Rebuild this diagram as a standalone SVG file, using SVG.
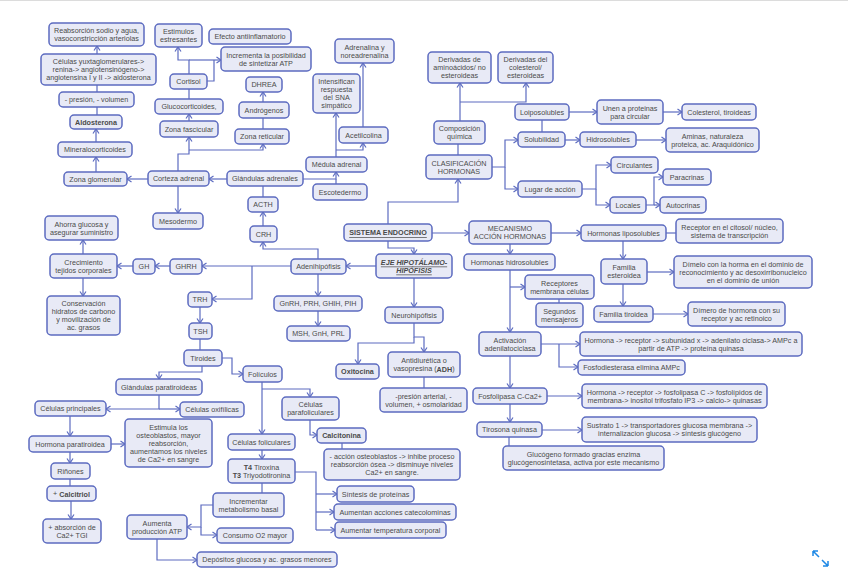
<svg xmlns="http://www.w3.org/2000/svg" width="848" height="584" viewBox="0 0 848 584">
<defs>
<marker id="ar" viewBox="-6 -4 7 8" refX="0" refY="0" markerWidth="7" markerHeight="8" markerUnits="userSpaceOnUse" orient="auto">
<path d="M-4.5,-3 L0,0 L-4.5,3" fill="none" stroke="#5c6bc0" stroke-width="1.2"/>
</marker>
</defs>
<style>
.n rect{fill:#e8eaf6;stroke:#5c6bc0;stroke-width:1.5}
text{font-family:"Liberation Sans",Arial,sans-serif;font-size:7.2px;fill:#4a4a4a;text-anchor:middle;dominant-baseline:central}
.c path{fill:none;stroke:#5c6bc0;stroke-width:1.2}
.c path.a{marker-end:url(#ar)}
.b{font-weight:bold}
</style>
<rect x="0" y="0" width="848" height="1" fill="#dcdcdc"/>
<g class="c" id="connectors">
<path class="a" d="M97,54 V46"/>
<path d="M97,92 V85"/>
<path d="M97,115 V107"/>
<path class="a" d="M96,142 V129"/>
<path class="a" d="M96,172 V157"/>
<path class="a" d="M148,179 H127"/>
<path class="a" d="M227,179 H209"/>
<path class="a" d="M178,171 V154 H189 V137"/>
<path class="a" d="M189,150 H263 V144"/>
<path class="a" d="M178,186 V213"/>
<path class="a" d="M189,121 V114"/>
<path d="M189,99 V89"/>
<path class="a" d="M189,74 V60 H178 V47"/>
<path class="a" d="M189,60 H221"/>
<path d="M207,81 H214 V60"/>
<path d="M263,129 V118"/>
<path class="a" d="M263,102 V92"/>
<path class="a" d="M303,179 H336 V172"/>
<path d="M336,184 V179"/>
<path class="a" d="M336,157 V113"/>
<path class="a" d="M336,150 H363 V143"/>
<path class="a" d="M363,127 V63"/>
<path d="M263,186 V197"/>
<path class="a" d="M263,226 V212"/>
<path class="a" d="M318,259 V249 H263 V242"/>
<path class="a" d="M291,266 H202"/>
<path class="a" d="M252,266 V299 H212"/>
<path class="a" d="M318,274 V296"/>
<path class="a" d="M318,311 V326"/>
<path class="a" d="M170,266 H155"/>
<path class="a" d="M133,266 H117"/>
<path class="a" d="M83,254 V240"/>
<path class="a" d="M83,278 V296"/>
<path class="a" d="M200,307 V323"/>
<path d="M200,339 V350"/>
<path class="a" d="M202,366 V372 H159 V379"/>
<path class="a" d="M222,358 H232 V374 H243"/>
<path class="a" d="M159,395 V409 H106"/>
<path class="a" d="M159,409 H180"/>
<path class="a" d="M70,416 V436"/>
<path class="a" d="M111,444 H125"/>
<path class="a" d="M70,452 V463"/>
<path d="M70,479 V486"/>
<path class="a" d="M71,501 V519"/>
<path class="a" d="M262,382 V434"/>
<path class="a" d="M262,389 H310 V397"/>
<path class="a" d="M310,420 V435 H317"/>
<path d="M342,443 V449"/>
<path class="a" d="M262,450 V459"/>
<path d="M295,472 H316 V530"/>
<path class="a" d="M316,494 H337"/>
<path class="a" d="M316,512 H334"/>
<path class="a" d="M316,530 H335"/>
<path d="M262,483 V493"/>
<path class="a" d="M213,505 H201 V527 H187"/>
<path class="a" d="M201,527 V535 H217"/>
<path class="a" d="M157,539 V560 H197"/>
<path class="a" d="M388,224 V202 H458 V179"/>
<path class="a" d="M432,233 H469"/>
<path class="a" d="M388,241 V248 H414 V254"/>
<path class="a" d="M376,266 H346"/>
<path class="a" d="M414,278 V307"/>
<path class="a" d="M414,323 V337 H424 V352"/>
<path class="a" d="M414,337 V343 H358 V364"/>
<path d="M424,377 V388"/>
<path d="M458,155 V144"/>
<path class="a" d="M460,121 V83"/>
<path class="a" d="M460,102 H526 V83"/>
<path class="a" d="M492,167 H505 V140 H518"/>
<path class="a" d="M505,167 V189 H518"/>
<path d="M542,132 V120"/>
<path class="a" d="M569,112 H597"/>
<path class="a" d="M663,112 H682"/>
<path class="a" d="M565,140 H580"/>
<path class="a" d="M636,140 H666"/>
<path class="a" d="M582,189 H596 V165 H611"/>
<path class="a" d="M596,189 V205 H610"/>
<path class="a" d="M646,205 H654 V177 H663"/>
<path class="a" d="M654,205 H660"/>
<path class="a" d="M551,233 H581"/>
<path class="a" d="M510,244 V254"/>
<path d="M666,233 H676"/>
<path class="a" d="M623,241 V259"/>
<path class="a" d="M647,272 H674"/>
<path class="a" d="M623,284 V306"/>
<path class="a" d="M653,314 H688"/>
<path class="a" d="M510,270 V332"/>
<path class="a" d="M510,287 H525"/>
<path d="M559,299 V303"/>
<path class="a" d="M541,344 H580"/>
<path class="a" d="M559,344 V367 H578"/>
<path class="a" d="M510,356 V388"/>
<path class="a" d="M547,396 H582"/>
<path class="a" d="M510,404 V422"/>
<path class="a" d="M542,430 H582"/>
<path d="M509,437 V446"/>
</g>
<g class="n" id="n1"><rect x="49" y="23" width="95" height="23" rx="4"/><text x="96.5" y="30.5">Reabsorción sodio y agua,</text><text x="96.5" y="38.5">vasoconstricción arteriolas</text></g>
<g class="n" id="n2"><rect x="41" y="54" width="115" height="31" rx="4"/><text x="98.5" y="61.5">Células yuxtaglomerulares-&gt;</text><text x="98.5" y="69.5">renina-&gt; angiotensinógeno-&gt;</text><text x="98.5" y="77.5">angiotensina I y II -&gt; aldosterona</text></g>
<g class="n" id="n3"><rect x="59" y="92" width="75" height="15" rx="4"/><text x="96.5" y="99.5">- presión, - volumen</text></g>
<g class="n" id="n4"><rect x="70" y="115" width="52" height="14" rx="4"/><text class="b" x="96" y="122">Aldosterona</text></g>
<g class="n" id="n5"><rect x="58" y="142" width="74" height="15" rx="4"/><text x="95" y="149.5">Mineralocorticoides</text></g>
<g class="n" id="n6"><rect x="64" y="172" width="63" height="14" rx="4"/><text x="95.5" y="179">Zona glomerular</text></g>
<g class="n" id="n7"><rect x="148" y="171" width="61" height="15" rx="4"/><text x="178.5" y="178.5">Corteza adrenal</text></g>
<g class="n" id="n8"><rect x="227" y="171" width="76" height="15" rx="4"/><text x="265" y="178.5">Glándulas adrenales</text></g>
<g class="n" id="n9"><rect x="155" y="24" width="47" height="23" rx="4"/><text x="178.5" y="31.5">Estimulos</text><text x="178.5" y="39.5">estresantes</text></g>
<g class="n" id="n10"><rect x="209" y="29" width="82" height="15" rx="4"/><text x="250" y="36.5">Efecto antiinflamatorio</text></g>
<g class="n" id="n11"><rect x="221" y="47" width="90" height="24" rx="4"/><text x="266" y="55">Incrementa la posibilidad</text><text x="266" y="63">de sintetizar ATP</text></g>
<g class="n" id="n12"><rect x="170" y="74" width="37" height="15" rx="4"/><text x="188.5" y="81.5">Cortisol</text></g>
<g class="n" id="n13"><rect x="246" y="77" width="36" height="15" rx="4"/><text x="264" y="84.5">DHREA</text></g>
<g class="n" id="n14"><rect x="155" y="99" width="68" height="15" rx="4"/><text x="189" y="106.5">Glucocorticoides,</text></g>
<g class="n" id="n15"><rect x="239" y="102" width="50" height="16" rx="4"/><text x="264" y="110">Andrógenos</text></g>
<g class="n" id="n16"><rect x="160" y="121" width="58" height="16" rx="4"/><text x="189" y="129">Zona fascicular</text></g>
<g class="n" id="n17"><rect x="235" y="129" width="54" height="15" rx="4"/><text x="262" y="136.5">Zona reticular</text></g>
<g class="n" id="n18"><rect x="335" y="39" width="59" height="24" rx="4"/><text x="364.5" y="47">Adrenalina y</text><text x="364.5" y="55">noreadrenalina</text></g>
<g class="n" id="n19"><rect x="313" y="74" width="47" height="39" rx="4"/><text x="336.5" y="81.5">Intensifican</text><text x="336.5" y="89.5">respuesta</text><text x="336.5" y="97.5">del SNA</text><text x="336.5" y="105.5">simpático</text></g>
<g class="n" id="n20"><rect x="339" y="127" width="49" height="16" rx="4"/><text x="363.5" y="135">Acetilcolina</text></g>
<g class="n" id="n21"><rect x="306" y="157" width="61" height="15" rx="4"/><text x="336.5" y="164.5">Médula adrenal</text></g>
<g class="n" id="n22"><rect x="313" y="184" width="54" height="16" rx="4"/><text x="340" y="192">Escotedermo</text></g>
<g class="n" id="n23"><rect x="428" y="52" width="63" height="31" rx="4"/><text x="459.5" y="59.5">Derivadas de</text><text x="459.5" y="67.5">aminoácidos/ no</text><text x="459.5" y="75.5">esteroideas</text></g>
<g class="n" id="n24"><rect x="498" y="52" width="55" height="31" rx="4"/><text x="525.5" y="59.5">Derivadas del</text><text x="525.5" y="67.5">colesterol/</text><text x="525.5" y="75.5">esteroideas</text></g>
<g class="n" id="n25"><rect x="434" y="121" width="51" height="23" rx="4"/><text x="459.5" y="128.5">Composición</text><text x="459.5" y="136.5">química</text></g>
<g class="n" id="n26"><rect x="426" y="155" width="66" height="24" rx="4"/><text x="459" y="163">CLASIFICACIÓN</text><text x="459" y="171">HORMONAS</text></g>
<g class="n" id="n27"><rect x="515" y="104" width="54" height="16" rx="4"/><text x="542" y="112">Loiposolubles</text></g>
<g class="n" id="n28"><rect x="518" y="132" width="47" height="15" rx="4"/><text x="541.5" y="139.5">Solubilidad</text></g>
<g class="n" id="n29"><rect x="518" y="181" width="64" height="16" rx="4"/><text x="550" y="189">Lugar de acción</text></g>
<g class="n" id="n30"><rect x="597" y="100" width="66" height="24" rx="4"/><text x="630" y="108">Unen a proteinas</text><text x="630" y="116">para circular</text></g>
<g class="n" id="n31"><rect x="682" y="104" width="74" height="16" rx="4"/><text x="719" y="112">Colesterol, tiroideas</text></g>
<g class="n" id="n32"><rect x="580" y="132" width="56" height="15" rx="4"/><text x="608" y="139.5">Hidrosolubles</text></g>
<g class="n" id="n33"><rect x="666" y="128" width="93" height="24" rx="4"/><text x="712.5" y="136">Aminas, naturaleza</text><text x="712.5" y="144">proteica, ac. Araquidónico</text></g>
<g class="n" id="n34"><rect x="611" y="157" width="47" height="16" rx="4"/><text x="634.5" y="165">Circulantes</text></g>
<g class="n" id="n35"><rect x="663" y="169" width="48" height="16" rx="4"/><text x="687" y="177">Paracrinas</text></g>
<g class="n" id="n36"><rect x="610" y="197" width="36" height="16" rx="4"/><text x="628" y="205">Locales</text></g>
<g class="n" id="n37"><rect x="660" y="197" width="46" height="16" rx="4"/><text x="683" y="205">Autocrinas</text></g>
<g class="n" id="n38"><rect x="344" y="224" width="88" height="17" rx="4"/><text class="b" x="388" y="232.5" text-decoration="underline">SISTEMA ENDOCRINO</text></g>
<g class="n" id="n39"><rect x="469" y="221" width="82" height="23" rx="4"/><text x="510" y="228.5">MECANISMO</text><text x="510" y="236.5">ACCIÓN HORMONAS</text></g>
<g class="n" id="n40"><rect x="581" y="225" width="85" height="16" rx="4"/><text x="623.5" y="233">Hormonas liposolubles</text></g>
<g class="n" id="n41"><rect x="676" y="219" width="107" height="24" rx="4"/><text x="729.5" y="227">Receptor en el citosol/ núcleo,</text><text x="729.5" y="235">sistema de transcripción</text></g>
<g class="n" id="n42"><rect x="376" y="254" width="76" height="24" rx="4"/><text class="b" x="414" y="262" font-style="italic" text-decoration="underline">EJE HIPOTÁLAMO-</text><text class="b" x="414" y="270" font-style="italic" text-decoration="underline">HIPÓFISIS</text></g>
<g class="n" id="n43"><rect x="291" y="259" width="55" height="15" rx="4"/><text x="318.5" y="266.5">Adenihipófisis</text></g>
<g class="n" id="n44"><rect x="464" y="254" width="91" height="16" rx="4"/><text x="509.5" y="262">Hormonas hidrosolubles</text></g>
<g class="n" id="n45"><rect x="601" y="259" width="46" height="25" rx="4"/><text x="624" y="267.5">Familia</text><text x="624" y="275.5">esteroidea</text></g>
<g class="n" id="n46"><rect x="674" y="256" width="138" height="32" rx="4"/><text x="743" y="264">Dímelo con la horma en el dominio de</text><text x="743" y="272">reconocimiento y ac desoxirribonucleico</text><text x="743" y="280">en el dominio de unión</text></g>
<g class="n" id="n47"><rect x="525" y="275" width="69" height="24" rx="4"/><text x="559.5" y="283">Receptores</text><text x="559.5" y="291">membrana células</text></g>
<g class="n" id="n48"><rect x="536" y="303" width="47" height="24" rx="4"/><text x="559.5" y="311">Segundos</text><text x="559.5" y="319">mensajeros</text></g>
<g class="n" id="n49"><rect x="594" y="306" width="59" height="16" rx="4"/><text x="623.5" y="314">Familia tiroidea</text></g>
<g class="n" id="n50"><rect x="688" y="302" width="97" height="24" rx="4"/><text x="736.5" y="310">Dímero de hormona con su</text><text x="736.5" y="318">receptor y ac retinoico</text></g>
<g class="n" id="n51"><rect x="479" y="332" width="62" height="24" rx="4"/><text x="510" y="340">Activación</text><text x="510" y="348">adenilatociclasa</text></g>
<g class="n" id="n52"><rect x="580" y="332" width="222" height="24" rx="4"/><text x="691" y="340">Hormona -&gt; receptor -&gt; subunidad x -&gt; adenilato ciclasa-&gt; AMPc a</text><text x="691" y="348">partir de ATP -&gt; proteína quinasa</text></g>
<g class="n" id="n53"><rect x="578" y="360" width="107" height="15" rx="4"/><text x="631.5" y="367.5">Fosfodiesterasa elimina AMPc</text></g>
<g class="n" id="n54"><rect x="473" y="388" width="74" height="16" rx="4"/><text x="510" y="396">Fosfolipasa C-Ca2+</text></g>
<g class="n" id="n55"><rect x="582" y="384" width="185" height="24" rx="4"/><text x="674.5" y="392">Hormona -&gt; receptor -&gt; fosfolipasa C -&gt; fosfolípidos de</text><text x="674.5" y="400">membrana-&gt; inositol trifosfato IP3 -&gt; calcio-&gt; quinasas</text></g>
<g class="n" id="n56"><rect x="477" y="422" width="65" height="15" rx="4"/><text x="509.5" y="429.5">Tirosona quinasa</text></g>
<g class="n" id="n57"><rect x="582" y="417" width="175" height="25" rx="4"/><text x="669.5" y="425.5">Sustrato 1 -&gt; transportadores glucosa membrana -&gt;</text><text x="669.5" y="433.5">internalizacion glucosa -&gt; síntesis glucógeno</text></g>
<g class="n" id="n58"><rect x="503" y="446" width="161" height="24" rx="4"/><text x="583.5" y="454">Glucógeno formado gracias enzima</text><text x="583.5" y="462">glucógenosintetasa, activa por este mecanismo</text></g>
<g class="n" id="n59"><rect x="380" y="388" width="87" height="24" rx="4"/><text x="423.5" y="396">-presión arterial, -</text><text x="423.5" y="404">volumen, + osmolaridad</text></g>
<g class="n" id="n60"><rect x="385" y="307" width="58" height="16" rx="4"/><text x="414" y="315">Neurohipófisis</text></g>
<g class="n" id="n61"><rect x="336" y="364" width="43" height="15" rx="4"/><text class="b" x="357.5" y="371.5">Oxitocina</text></g>
<g class="n" id="n62"><rect x="388" y="352" width="72" height="25" rx="4"/><text x="424" y="360.5">Antidiurética o</text><text x="424" y="368.5">vasopresina (<tspan class="b">ADH</tspan>)</text></g>
<g class="n" id="n63"><rect x="274" y="296" width="88" height="15" rx="4"/><text x="318" y="303.5">GnRH, PRH, GHIH, PIH</text></g>
<g class="n" id="n64"><rect x="287" y="326" width="63" height="15" rx="4"/><text x="318.5" y="333.5">MSH, GnH, PRL</text></g>
<g class="n" id="n65"><rect x="248" y="197" width="30" height="15" rx="4"/><text x="263" y="204.5">ACTH</text></g>
<g class="n" id="n66"><rect x="250" y="226" width="27" height="16" rx="4"/><text x="263.5" y="234">CRH</text></g>
<g class="n" id="n67"><rect x="153" y="213" width="50" height="16" rx="4"/><text x="178" y="221">Mesodermo</text></g>
<g class="n" id="n68"><rect x="45" y="216" width="73" height="24" rx="4"/><text x="81.5" y="224">Ahorra glucosa y</text><text x="81.5" y="232">asegurar suministro</text></g>
<g class="n" id="n69"><rect x="50" y="254" width="67" height="24" rx="4"/><text x="83.5" y="262">Crecimiento</text><text x="83.5" y="270">tejidos corporales</text></g>
<g class="n" id="n70"><rect x="133" y="259" width="22" height="15" rx="4"/><text x="144" y="266.5">GH</text></g>
<g class="n" id="n71"><rect x="170" y="259" width="32" height="15" rx="4"/><text x="186" y="266.5">GHRH</text></g>
<g class="n" id="n72"><rect x="47" y="296" width="73" height="39" rx="4"/><text x="83.5" y="303.5">Conservación</text><text x="83.5" y="311.5">hidratos de carbono</text><text x="83.5" y="319.5">y movilización de</text><text x="83.5" y="327.5">ac. grasos</text></g>
<g class="n" id="n73"><rect x="188" y="292" width="24" height="15" rx="4"/><text x="200" y="299.5">TRH</text></g>
<g class="n" id="n74"><rect x="189" y="323" width="23" height="16" rx="4"/><text x="200.5" y="331">TSH</text></g>
<g class="n" id="n75"><rect x="184" y="350" width="38" height="16" rx="4"/><text x="203" y="358">Tiroides</text></g>
<g class="n" id="n76"><rect x="243" y="366" width="39" height="16" rx="4"/><text x="262.5" y="374">Folículos</text></g>
<g class="n" id="n77"><rect x="116" y="379" width="86" height="16" rx="4"/><text x="159" y="387">Glándulas paratiroideas</text></g>
<g class="n" id="n78"><rect x="35" y="401" width="71" height="15" rx="4"/><text x="70.5" y="408.5">Células principales</text></g>
<g class="n" id="n79"><rect x="180" y="402" width="64" height="15" rx="4"/><text x="212" y="409.5">Células oxifílicas</text></g>
<g class="n" id="n80"><rect x="125" y="419" width="87" height="48" rx="4"/><text x="168.5" y="427">Estimula los</text><text x="168.5" y="435">osteoblastos, mayor</text><text x="168.5" y="443">reabsorción,</text><text x="168.5" y="451">aumentamos los niveles</text><text x="168.5" y="459">de Ca2+ en sangre</text></g>
<g class="n" id="n81"><rect x="29" y="436" width="82" height="16" rx="4"/><text x="70" y="444">Hormona paratiroidea</text></g>
<g class="n" id="n82"><rect x="51" y="463" width="39" height="16" rx="4"/><text x="70.5" y="471">Riñones</text></g>
<g class="n" id="n83"><rect x="47" y="486" width="49" height="15" rx="4"/><text x="71.5" y="493.5">+ <tspan class="b">Calcitriol</tspan></text></g>
<g class="n" id="n84"><rect x="43" y="519" width="58" height="24" rx="4"/><text x="72" y="527">+ absorción de</text><text x="72" y="535">Ca2+ TGI</text></g>
<g class="n" id="n85"><rect x="282" y="397" width="57" height="23" rx="4"/><text x="310.5" y="404.5">Células</text><text x="310.5" y="412.5">parafoliculares</text></g>
<g class="n" id="n86"><rect x="317" y="428" width="49" height="15" rx="4"/><text class="b" x="341.5" y="435.5">Calcitonina</text></g>
<g class="n" id="n87"><rect x="324" y="449" width="136" height="31" rx="4"/><text x="392" y="456.5">- acción osteoblastos -&gt; inhibe proceso</text><text x="392" y="464.5">reabsorción ósea -&gt; disminuye niveles</text><text x="392" y="472.5">Ca2+ en sangre.</text></g>
<g class="n" id="n88"><rect x="228" y="434" width="67" height="16" rx="4"/><text x="261.5" y="442">Células foliculares</text></g>
<g class="n" id="n89"><rect x="228" y="459" width="67" height="24" rx="4"/><text x="261.5" y="467"><tspan class="b">T4</tspan> Tiroxina</text><text x="261.5" y="475"><tspan class="b">T3</tspan> Triyodotironina</text></g>
<g class="n" id="n90"><rect x="337" y="486" width="77" height="16" rx="4"/><text x="375.5" y="494">Síntesis de proteínas</text></g>
<g class="n" id="n91"><rect x="334" y="504" width="122" height="16" rx="4"/><text x="395" y="512">Aumentan acciones catecolominas</text></g>
<g class="n" id="n92"><rect x="335" y="522" width="111" height="16" rx="4"/><text x="390.5" y="530">Aumentar temperatura corporal</text></g>
<g class="n" id="n93"><rect x="213" y="493" width="71" height="24" rx="4"/><text x="248.5" y="501">Incrementar</text><text x="248.5" y="509">metabolismo basal</text></g>
<g class="n" id="n94"><rect x="127" y="515" width="60" height="24" rx="4"/><text x="157" y="523">Aumenta</text><text x="157" y="531">producción ATP</text></g>
<g class="n" id="n95"><rect x="217" y="528" width="76" height="15" rx="4"/><text x="255" y="535.5">Consumo O2 mayor</text></g>
<g class="n" id="n96"><rect x="197" y="552" width="140" height="15" rx="4"/><text x="267" y="559.5">Depósitos glucosa y ac. grasos menores</text></g>
<g id="expand-icon" fill="none" stroke="#1e88e5" stroke-width="1.5">
<path d="M813,551 L819,557 M813,551 V556 M813,551 H818"/>
<path d="M822,560 L828,566 M828,566 V561 M828,566 H823"/>
</g>
</svg>
